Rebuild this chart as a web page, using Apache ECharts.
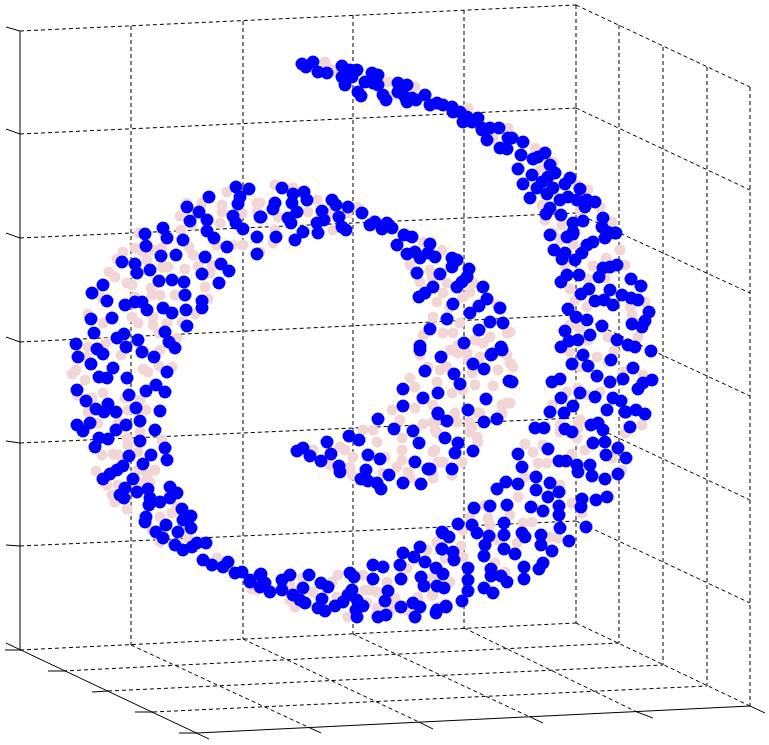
<!DOCTYPE html>
<html>
<head>
<meta charset="utf-8">
<script src="https://cdn.jsdelivr.net/npm/echarts@6/dist/echarts.min.js"></script>
<style>
  html, body { margin: 0; padding: 0; background: #fff; }
  #chart { width: 769px; height: 745px; }
</style>
</head>
<body>
<div id="chart"></div>
<script>
// projected picture coordinates, [x, y]
const pinkPoints = [
  [227,192],[222,205],[222,212],[202,203],[187,203],[180,216],[181,230],[192,225],[220,223],[257,203],[257,212],[242,213],
  [139,233],[135,248],[123,252],[143,252],[153,250],[162,248],[189,247],[193,255],[117,259],[147,260],[109,272],[115,277],
  [127,283],[132,285],[162,267],[168,267],[185,269],[198,266],[212,265],[210,273],[233,245],[243,245],[217,245],[205,287],
  [151,288],[152,295],[160,295],[175,295],[135,297],[208,299],[102,298],[88,314],[103,323],[132,317],[138,323],[153,317],
  [153,325],[167,323],[195,314],[182,322],[159,333],[177,338],[106,343],[88,347],[121,355],[160,350],[87,357],
  [76,370],[72,374],[85,380],[143,369],[148,372],[159,366],[172,367],[103,393],[92,398],[77,395],[125,398],[140,400],
  [146,410],[128,410],[88,412],[98,423],[140,432],[127,438],[128,445],[118,423],[162,440],[102,455],[113,454],[119,455],
  [138,452],[96,471],[155,470],[147,475],[150,482],[140,483],[118,485],[112,495],[115,502],[127,509],[138,470],[160,517],
  [172,513],[177,507],[152,530],[160,542],[188,538],[217,558],[257,590],[107,485],
  [260,203],[275,185],[293,188],[317,200],[308,212],[278,217],[275,230],[273,243],[260,252],[330,213],[333,230],[347,213],
  [357,207],[373,220],[405,233],[423,242],[442,250],[410,265],[430,270],[420,282],[432,278],[447,283],[443,293],[437,302],
  [463,297],[470,292],[473,283],[433,317],[450,307],[460,323],[453,333],[443,333],[423,335],[475,340],[490,337],[507,333],
  [497,305],[467,353],[450,350],[480,357],[507,355],[458,345],[483,343],
  [420,355],[428,367],[440,370],[447,367],[458,353],[468,360],[472,373],[475,385],[493,386],[498,370],[510,363],[510,380],
  [502,405],[507,403],[410,378],[415,387],[437,382],[452,393],[463,390],[433,405],[392,410],[415,408],[400,420],[423,424],
  [480,413],[472,427],[477,437],[433,422],[437,433],[363,430],[373,430],[377,442],[402,438],[402,450],[402,460],[345,450],
  [353,457],[313,450],[330,465],[350,467],[340,447],[385,457],[433,452],[443,462],[462,462],[452,475],[408,472],[397,467],
  [410,478],[352,475],[383,473],[433,478],
  [252,589],[290,585],[302,578],[338,575],[332,582],[313,592],[290,600],[295,607],[337,597],[363,575],[370,590],[365,590],
  [377,592],[387,582],[407,568],[395,598],[377,608],[348,617],[393,608],[418,597],[432,595],[437,542],[427,550],[445,558],
  [432,578],[407,610],[438,607],[367,603],
  [435,422],[435,430],[455,413],[457,422],[478,413],[470,422],[470,432],[478,442],[502,413],[462,462],[435,450],[438,462],
  [433,475],[525,444],[533,452],[543,445],[538,463],[547,463],[572,454],[585,450],[560,432],[578,422],[577,438],[622,470],
  [625,433],[612,458],[525,477],[518,497],[560,485],[572,503],[582,513],[488,518],[510,515],[523,523],[532,522],[490,525],
  [463,530],[550,537],[558,538],[517,543],[498,540],[437,543],[461,546],[463,557],[447,558],[495,563],[505,572],[450,582],
  [433,595],[485,505],[470,517],
  [560,240],[573,244],[620,250],[565,265],[593,266],[606,258],[625,265],[570,289],[588,279],[605,278],[575,300],[587,307],
  [630,307],[645,302],[632,315],[570,325],[580,328],[608,337],[638,337],[588,340],[570,352],[614,351],[597,357],[608,362],
  [580,367],[623,372],[643,375],[578,388],[600,392],[567,392],[587,395],[552,405],[642,425],[580,420],[560,425],[578,428],
  [513,367],[510,332],[510,403],
  [325,62],[327,67],[333,70],[388,82],[415,87],[395,95],[468,108],[493,138],[508,128],[535,148],[540,170],[553,162],
  [577,185],[588,190],[542,205],[545,220],[562,225],[600,207],[612,222],[553,233],[580,210]
]

const bluePoints = [
  [236,187],[249,189],[240,197],[238,204],[209,197],[187,207],[199,212],[190,221],[207,220],[233,216],[236,223],[243,229],
  [260,217],[207,231],[214,238],[257,237],[227,247],[257,254],[145,234],[163,228],[167,238],[183,240],[146,246],[161,256],
  [176,255],[205,257],[221,264],[229,271],[202,274],[219,283],[122,262],[135,264],[137,273],[150,270],[159,281],[172,280],
  [184,282],[103,285],[92,293],[107,301],[185,295],[125,305],[135,302],[142,302],[147,310],[163,308],[172,313],[186,310],
  [202,301],[202,308],[91,319],[112,318],[187,326],[94,333],[124,334],[117,338],[138,340],[165,332],[169,342],[175,348],
  [76,344],[126,347],[97,349],[103,354],[142,352],[154,357],[78,357],[91,364],
  [113,368],[99,377],[107,378],[127,378],[167,372],[77,390],[86,401],[129,395],[146,391],[156,385],[165,392],[96,409],
  [108,404],[104,412],[116,412],[136,408],[160,411],[140,421],[77,425],[83,431],[90,423],[126,425],[116,430],[155,430],
  [140,441],[99,438],[108,439],[95,447],[165,448],[129,456],[151,455],[167,460],[143,464],[123,466],[117,470],[110,474],
  [103,479],[133,479],[125,488],[120,495],[124,498],[137,492],[148,489],[170,487],[177,493],[170,498],[160,502],[150,498],
  [149,505],[182,509],[191,516],[146,517],[145,522],[183,520],[191,528],[166,525],[156,532],[178,532],[163,538],[175,545],
  [183,550],[192,547],[197,543],[206,543],[203,560],[212,565],[223,567],[228,562],[235,573],[242,572],[250,580],[260,575],
  [260,587],
  [250,582],[261,574],[265,583],[270,592],[282,580],[290,575],[282,590],[293,595],[300,600],[303,588],[305,603],[309,575],
  [321,583],[328,587],[350,573],[354,577],[373,565],[383,567],[373,579],[400,565],[401,579],[403,553],[414,557],[420,547],
  [425,562],[442,532],[442,549],[436,568],[443,574],[421,577],[424,586],[437,586],[444,588],[388,591],[385,601],[352,590],
  [348,595],[357,600],[363,606],[357,617],[356,610],[322,599],[318,608],[325,611],[335,606],[343,602],[378,617],[386,615],
  [401,607],[413,603],[420,607],[415,617],[436,613],[446,607],
  [438,414],[447,421],[468,410],[484,422],[497,419],[445,438],[458,443],[455,453],[473,451],[452,469],[430,469],[550,412],
  [564,413],[607,410],[625,412],[535,428],[544,428],[565,429],[572,432],[591,425],[598,423],[603,430],[630,427],[593,443],
  [605,442],[618,448],[606,455],[626,458],[518,454],[548,449],[559,461],[566,461],[577,465],[590,465],[578,472],[592,476],
  [605,479],[618,474],[522,467],[536,477],[506,482],[497,489],[518,484],[536,490],[550,483],[559,492],[548,497],[582,499],
  [581,507],[596,500],[607,497],[474,508],[490,506],[507,505],[531,507],[543,511],[559,506],[559,515],[458,524],[472,525],
  [477,533],[504,523],[504,535],[522,533],[525,537],[560,528],[586,527],[569,541],[443,533],[449,537],[489,536],[485,545],
  [541,535],[541,545],[552,551],[442,549],[453,552],[454,560],[484,556],[504,549],[515,554],[543,563],[539,569],[524,567],
  [524,579],[491,569],[491,576],[501,576],[507,582],[468,568],[468,580],[468,591],[462,601],[484,588],[493,593],[446,606],
  [437,610],
  [420,350],[441,357],[425,371],[454,374],[460,384],[473,364],[484,369],[491,355],[502,350],[509,381],[403,389],[423,398],
  [438,393],[486,399],[403,406],[438,413],[378,419],[394,429],[413,431],[349,436],[359,440],[419,443],[327,442],[297,451],
  [303,448],[310,456],[321,461],[331,454],[368,455],[380,459],[415,462],[428,469],[339,466],[340,472],[366,470],[389,475],
  [361,479],[368,481],[377,483],[381,489],[403,483],[421,484],
  [282,188],[293,194],[304,192],[307,200],[275,203],[273,209],[292,203],[297,212],[261,217],[288,218],[291,223],[322,211],
  [332,200],[336,205],[348,207],[339,217],[324,220],[317,223],[318,233],[303,232],[295,240],[276,237],[342,227],[346,230],
  [362,213],[370,225],[375,222],[382,229],[387,223],[392,228],[397,245],[404,235],[412,237],[407,254],[415,252],[420,258],
  [430,244],[428,253],[435,257],[452,258],[457,260],[452,267],[417,273],[440,274],[469,269],[467,277],[462,282],[457,287],
  [483,287],[433,287],[425,293],[419,297],[487,299],[479,306],[453,304],[500,308],[470,313],[447,319],[490,322],[503,323],
  [430,329],[479,330],[464,343],[420,346],[501,347],[492,354],
  [550,235],[567,237],[573,234],[554,250],[565,253],[562,259],[575,260],[582,253],[587,245],[593,242],[605,238],[610,233],
  [616,233],[599,277],[603,268],[610,267],[617,265],[561,282],[567,275],[579,275],[631,279],[641,286],[589,289],[581,294],
  [610,290],[622,295],[631,298],[638,300],[595,301],[604,300],[613,305],[568,309],[649,312],[576,317],[587,320],[645,321],
  [632,324],[642,327],[602,326],[565,331],[590,335],[578,340],[569,341],[561,347],[617,340],[628,345],[635,347],[651,351],
  [583,355],[572,364],[588,366],[611,360],[633,368],[597,376],[560,379],[552,382],[623,379],[610,382],[652,380],[643,383],
  [638,389],[512,382],[580,393],[561,398],[595,397],[613,398],[621,401],[573,406],[636,410],[645,414],[626,412],
  [302,64],[306,67],[313,62],[318,72],[327,73],[342,66],[342,77],[345,85],[357,70],[350,70],[352,77],[358,92],[361,96],
  [365,82],[372,73],[378,75],[373,83],[378,85],[383,95],[386,100],[398,83],[407,85],[398,92],[405,97],[412,98],[407,102],
  [416,100],[425,95],[430,105],[437,103],[443,105],[452,107],[453,112],[460,112],[467,117],[463,122],[472,122],[478,118],
  [482,130],[490,128],[499,128],[487,140],[500,148],[508,138],[507,149],
  [473,120],[482,128],[512,138],[523,142],[521,155],[533,159],[545,153],[538,157],[518,169],[532,175],[550,165],[555,173],
  [548,177],[542,182],[523,184],[570,178],[565,184],[537,188],[530,198],[553,188],[547,194],[580,189],[560,200],[568,197],
  [577,200],[585,207],[595,202],[587,200],[550,208],[546,214],[561,215],[603,218],[583,221],[573,223],[573,232],[602,227],
  [607,232],[615,233]
]

// box edges as [x1, y1, x2, y2]
const dashedEdges = [
  // back wall rows
  [20,31,576,5],[20,134,576,108],[20,238,576,213],[20,342,576,315],[20,443,576,418],[20,546,576,521],[20,650,576,623],
  // back wall columns
  [131,26,131,645],[243,21,243,639],[353,15,353,634],[464,10,464,628],[576,5,576,623],
  // right wall rows
  [576,5,750,87],[576,108,750,190],[576,213,750,293],[576,315,750,396],[576,418,750,500],[576,521,750,603],[576,623,750,706],
  // right wall columns
  [619,25,619,643],[663,47,663,665],[707,67,707,686],[750,87,750,706],
  // floor
  [63,671,619,643],[108,691,663,665],[153,712,707,686],
  [131,645,308,727],[243,639,419,722],[353,634,530,717],[464,628,637,712]
]

const solidEdges = [
  [20,31,20,650],[6,643,209,739],[197,733,750,706],
  // z ticks
  [6,27,20,31],[6,129,20,134],[6,233,20,238],[6,337,20,342],[6,441,20,443],[6,545,20,546],[5,650,20,650],
  // y ticks
  [48,671,63,671],[92,692,108,691],[135,712,153,712],[179,733,197,733],
  // x ticks
  [308,727,321,733],[419,722,433,729],[530,717,543,723],[637,712,653,718],[750,706,765,713]
]

function edgesToLine(edges) {
  const out = []
  edges.forEach(e => {
    out.push([e[0], e[1]], [e[2], e[3]], [null, null])
  })
  return out
}

const myChart = echarts.init(document.getElementById('chart'), null, { renderer: 'canvas' })
myChart.setOption({
  animation: false,
  backgroundColor: '#fff',
  grid: { left: 0, right: 0, top: 0, bottom: 0 },
  xAxis: { type: 'value', min: 0, max: 769, show: false },
  yAxis: { type: 'value', min: 0, max: 745, inverse: true, show: false },
  series: [
    {
      name: 'grid',
      type: 'line',
      data: edgesToLine(dashedEdges),
      showSymbol: false,
      connectNulls: false,
      silent: true,
      z: 1,
      lineStyle: { color: '#000', width: 1, type: [4, 3] }
    },
    {
      name: 'box',
      type: 'line',
      data: edgesToLine(solidEdges),
      showSymbol: false,
      connectNulls: false,
      silent: true,
      z: 1,
      lineStyle: { color: '#000', width: 1 }
    },
    {
      name: 'all',
      type: 'scatter',
      data: pinkPoints,
      symbolSize: 11,
      silent: true,
      z: 2,
      itemStyle: { color: '#F2D5D5', opacity: 1 }
    },
    {
      name: 'sampled',
      type: 'scatter',
      data: bluePoints,
      symbolSize: 13,
      silent: true,
      z: 3,
      itemStyle: { color: '#0000FF', opacity: 1 }
    }
  ]
})
window.addEventListener('resize', function() {
  myChart.resize()
})
</script>
</body>
</html>
